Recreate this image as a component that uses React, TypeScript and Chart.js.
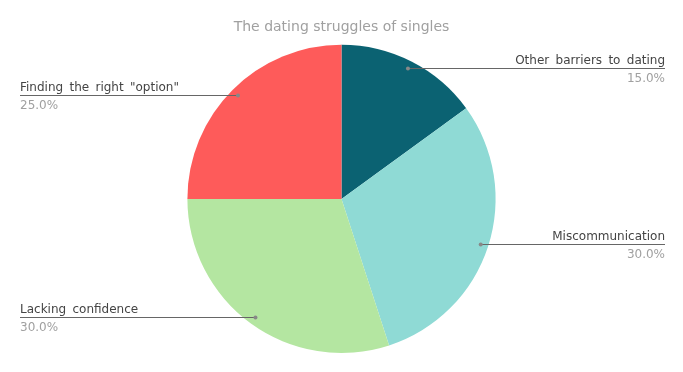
import React, { useEffect, useRef } from "react";
import { Chart, registerables } from "chart.js";

Chart.register(...registerables);

const categories = ["Other barriers to dating", "Miscommunication", "Lacking confidence", 'Finding the right "option"'];
const values = [15, 30, 30, 25];
const colors = ["#0b6272", "#8fdad5", "#b4e6a1", "#fe5b5a"];
const titleText = "The dating struggles of singles";

const FONT = "'DejaVu Sans', Verdana, sans-serif";

const leaderPlugin = {
  id: "leaderLabels",
  afterDatasetsDraw(chart: any) {
    const ctx = chart.ctx;
    const meta = chart.getDatasetMeta(0);
    const total = values.reduce((a, b) => a + b, 0);
    const leftX = 20;
    const rightX = chart.width - 18;
    meta.data.forEach((arc: any, i: number) => {
      const { x, y, startAngle, endAngle, outerRadius } = arc.getProps(
        ["x", "y", "startAngle", "endAngle", "outerRadius"],
        true
      );
      const mid = (startAngle + endAngle) / 2;
      const r = outerRadius * 0.95;
      const px = x + Math.cos(mid) * r;
      const py = y + Math.sin(mid) * r;
      const right = Math.cos(mid) >= 0;
      const endX = right ? rightX : leftX;
      ctx.save();
      ctx.strokeStyle = "#666666";
      ctx.lineWidth = 1;
      ctx.beginPath();
      ctx.moveTo(px, Math.round(py) + 0.5);
      ctx.lineTo(endX, Math.round(py) + 0.5);
      ctx.stroke();
      ctx.fillStyle = "#888888";
      ctx.beginPath();
      ctx.arc(px, Math.round(py) + 0.5, 2, 0, Math.PI * 2);
      ctx.fill();
      ctx.font = `12px ${FONT}`;
      try {
        (ctx as any).wordSpacing = "2.5px";
      } catch (e) {}
      ctx.textAlign = right ? "right" : "left";
      ctx.textBaseline = "alphabetic";
      ctx.fillStyle = "#444444";
      ctx.fillText(categories[i], endX, Math.round(py) - 4);
      ctx.fillStyle = "#a0a0a0";
      const pct = ((values[i] / total) * 100).toFixed(1) + "%";
      ctx.fillText(pct, endX, Math.round(py) + 14);
      ctx.restore();
    });
  },
};

export default function App() {
  const ref = useRef<HTMLCanvasElement | null>(null);
  useEffect(() => {
    if (!ref.current) return;
    const chart = new Chart(ref.current, {
      type: "pie",
      data: {
        labels: categories,
        datasets: [
          {
            data: values,
            backgroundColor: colors,
            borderWidth: 0,
          },
        ],
      },
      options: {
        animation: false,
        responsive: true,
        maintainAspectRatio: false,
        layout: { padding: { top: 1, bottom: 19, left: 0, right: 0 } },
        plugins: {
          legend: { display: false },
          tooltip: { enabled: false },
          title: {
            display: true,
            text: titleText,
            color: "#a0a0a0",
            font: { family: FONT, size: 14, weight: "normal" },
            padding: { top: 18, bottom: 9 },
          },
        },
      },
      plugins: [leaderPlugin],
    });
    return () => chart.destroy();
  }, []);
  return (
    <div style={{ position: "fixed", left: 0, top: 0, width: 683, height: 372, background: "#fff" }}>
      <canvas ref={ref} />
    </div>
  );
}
